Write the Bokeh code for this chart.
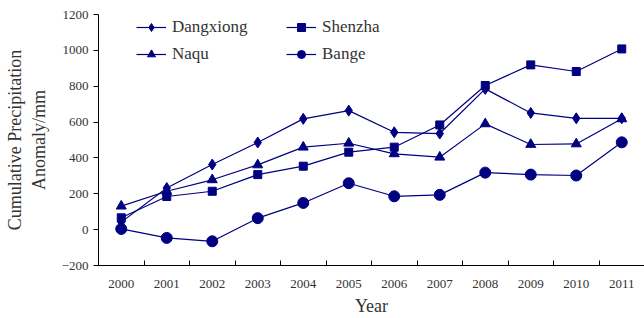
from bokeh.plotting import figure
from bokeh.models import Range1d, FixedTicker, Legend, LegendItem, ColumnDataSource
from bokeh.embed import file_html
from bokeh.resources import INLINE

years = ["2000", "2001", "2002", "2003", "2004", "2005", "2006", "2007", "2008", "2009", "2010", "2011"]
dangxiong = [42, 232, 363, 486, 618, 664, 543, 536, 785, 651, 621, 621]
shenzha = [66, 185, 214, 307, 354, 432, 460, 584, 804, 919, 882, 1008]
naqu = [131, 214, 278, 361, 460, 482, 423, 404, 590, 475, 478, 618]
bange = [4, -46, -65, 64, 149, 259, 186, 194, 318, 307, 302, 487]
y_ticks = [-200, 0, 200, 400, 600, 800, 1000, 1200]

FONT = "Liberation Serif"
NAVY = "#000080"
TXT = "#333333"

xs = list(range(len(years)))

p = figure(width=644, height=318, output_backend="svg", toolbar_location=None,
           x_range=Range1d(-0.5, len(years) - 0.5), y_range=Range1d(-200, 1200),
           min_border_left=98, min_border_right=0, min_border_top=14, min_border_bottom=53)
p.outline_line_color = None
p.grid.visible = False
p.background_fill_color = "white"
p.border_fill_color = "white"

src = ColumnDataSource(dict(x=xs, d=dangxiong, s=shenzha, n=naqu, b=bange))

r_d = [p.line("x", "d", source=src, color=NAVY, line_width=1.2),
       p.scatter("x", "d", source=src, marker="diamond", size=11, color=NAVY)]
r_s = [p.line("x", "s", source=src, color=NAVY, line_width=1.2),
       p.scatter("x", "s", source=src, marker="square", size=8, color=NAVY)]
r_n = [p.line("x", "n", source=src, color=NAVY, line_width=1.2),
       p.scatter("x", "n", source=src, marker="triangle", size=10, color=NAVY)]
r_b = [p.line("x", "b", source=src, color=NAVY, line_width=1.2),
       p.scatter("x", "b", source=src, marker="circle", size=11, color=NAVY)]

legend = Legend(items=[LegendItem(label="Dangxiong", renderers=r_d),
                       LegendItem(label="Shenzha", renderers=r_s),
                       LegendItem(label="Naqu", renderers=r_n),
                       LegendItem(label="Bange", renderers=r_b)],
                orientation="horizontal", nrows=2,
                location=(38, 201), margin=0, padding=0, spacing=7,
                glyph_width=30, glyph_height=20, label_standoff=6, label_width=107,
                label_text_font=FONT, label_text_font_size="17px", label_text_color=TXT,
                border_line_color=None, background_fill_alpha=0)
p.add_layout(legend, "center")

# x axis
xa = p.xaxis[0]
xa.ticker = FixedTicker(ticks=xs, minor_ticks=[i + 0.5 for i in xs[:-1]])
xa.major_label_overrides = {i: y for i, y in enumerate(years)}
xa.major_tick_in = 0
xa.major_tick_out = 0
xa.minor_tick_in = 5
xa.minor_tick_out = 0
xa.minor_tick_line_color = "black"
xa.axis_line_color = "black"
xa.major_label_standoff = 14
xa.major_label_text_font = FONT
xa.major_label_text_font_size = "13px"
xa.major_label_text_color = TXT
xa.axis_label = "Year"
xa.axis_label_text_font = FONT
xa.axis_label_text_font_size = "18px"
xa.axis_label_text_font_style = "normal"
xa.axis_label_text_color = TXT
xa.axis_label_standoff = 5

ya = p.yaxis[0]
ya.ticker = FixedTicker(ticks=y_ticks)
ya.minor_tick_line_color = None
ya.major_tick_in = 0
ya.major_tick_out = 5
ya.major_tick_line_color = "black"
ya.axis_line_color = "black"
ya.major_label_standoff = 5
ya.major_label_text_font = FONT
ya.major_label_text_font_size = "13px"
ya.major_label_text_color = TXT
ya.axis_label = "Cumulative Precipitation\nAnomaly/mm"
ya.axis_label_text_font = FONT
ya.axis_label_text_font_size = "18px"
ya.axis_label_text_font_style = "normal"
ya.axis_label_text_color = TXT
ya.axis_label_standoff = 10

open("out.html", "w").write(file_html(p, INLINE))
